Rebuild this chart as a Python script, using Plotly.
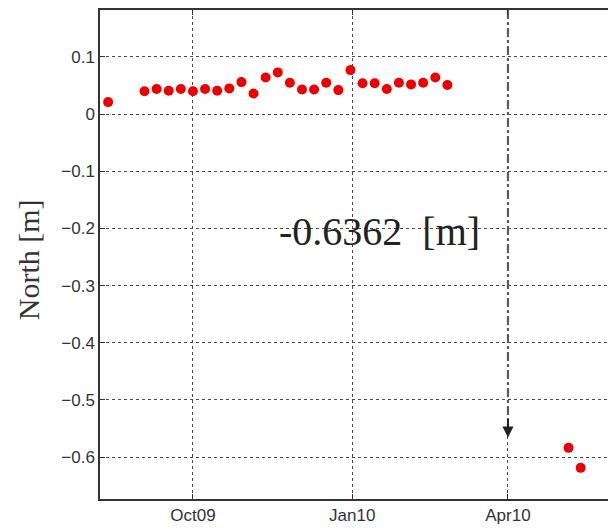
import plotly.graph_objects as go

# Weekly GPS north component (m)
dates = [
    "2009-08-13", "2009-09-03", "2009-09-10", "2009-09-17", "2009-09-24",
    "2009-10-01", "2009-10-08", "2009-10-15", "2009-10-22", "2009-10-29",
    "2009-11-05", "2009-11-12", "2009-11-19", "2009-11-26", "2009-12-03",
    "2009-12-10", "2009-12-17", "2009-12-24", "2009-12-31", "2010-01-07",
    "2010-01-14", "2010-01-21", "2010-01-28", "2010-02-04", "2010-02-11",
    "2010-02-18", "2010-02-25", "2010-05-06", "2010-05-13",
]
north = [
    0.021, 0.040, 0.044, 0.041, 0.044,
    0.040, 0.044, 0.041, 0.045, 0.056,
    0.036, 0.064, 0.073, 0.055, 0.043,
    0.043, 0.055, 0.042, 0.077, 0.054,
    0.054, 0.044, 0.055, 0.052, 0.055,
    0.064, 0.051, -0.584, -0.619,
]

xtick_vals = ["2009-10-01", "2010-01-01", "2010-04-01"]
xtick_text = ["Oct09", "Jan10", "Apr10"]
ytick_vals = [0.1, 0.0, -0.1, -0.2, -0.3, -0.4, -0.5, -0.6]
ytick_text = ["0.1", "0", "\u22120.1", "\u22120.2", "\u22120.3",
              "\u22120.4", "\u22120.5", "\u22120.6"]

offset_label = "-0.6362  [m]"
event_date = "2010-04-01"

x_range = ["2009-08-08 07:00", "2010-05-28 19:00"]
y_range = [-0.6735, 0.1822]

fig = go.Figure()

# displacement marker: dash-dot guide down the event date
fig.add_trace(go.Scatter(
    x=[event_date, event_date], y=[y_range[1], -0.545],
    mode="lines", line=dict(color="#5a5a5a", width=2.2, dash="dashdot"),
    hoverinfo="skip", showlegend=False,
))

fig.add_trace(go.Scatter(
    x=dates, y=north, mode="markers",
    marker=dict(color="#ee0000", size=10, line=dict(width=0)),
    showlegend=False,
))

fig.add_annotation(
    x=event_date, y=-0.566, xref="x", yref="y",
    ax=0, ay=-20, text="", showarrow=True,
    arrowhead=2, arrowsize=1.1, arrowwidth=2, arrowcolor="#222222",
)

fig.add_annotation(
    x="2010-01-17", y=-0.205, xref="x", yref="y",
    text=offset_label, showarrow=False,
    font=dict(family="Liberation Serif", size=40, color="#222222"),
)

fig.add_annotation(
    x=-0.14, y=0.49, xref="paper", yref="paper",
    xanchor="center", yanchor="middle",
    text="North [m]", textangle=-90, showarrow=False,
    font=dict(family="Liberation Serif", size=30, color="#333333"),
)

axis_font = dict(family="Liberation Sans", size=17, color="#333333")

fig.update_xaxes(
    type="date", range=x_range,
    tickvals=xtick_vals, ticktext=xtick_text, tickangle=0,
    tickfont=axis_font,
    showline=True, linecolor="#333333", linewidth=1.5, mirror="ticks",
    ticks="inside", ticklen=5, tickcolor="#333333",
    showgrid=True, gridcolor="#4a4a4a", gridwidth=1, griddash="dot",
    zeroline=False,
)
fig.update_yaxes(
    range=y_range, tickvals=ytick_vals, ticktext=ytick_text,
    tickfont=axis_font,
    showline=True, linecolor="#333333", linewidth=1.5, mirror=False,
    ticks="inside", ticklen=5, tickcolor="#333333",
    showgrid=True, gridcolor="#4a4a4a", gridwidth=1, griddash="dot",
    zeroline=False,
)

fig.update_layout(
    width=608, height=530,
    margin=dict(l=100, r=0, t=10, b=31),
    plot_bgcolor="white", paper_bgcolor="white",
)

fig.write_html("out.html")
